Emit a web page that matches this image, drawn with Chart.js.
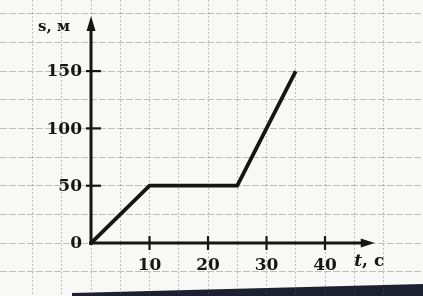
<!DOCTYPE html>
<html>
<head>
<meta charset="utf-8">
<script src="https://cdn.jsdelivr.net/npm/chart.js@4"></script>
<style>
  html, body { margin: 0; padding: 0; background: #f8f8f6; }
  #wrap { width: 423px; height: 296px; }
</style>
</head>
<body>
<div id="wrap"><canvas id="graph"></canvas></div>
<script>
// motion graph data: time (c) and distance (м)
const timeValues = [0, 10, 25, 35];
const distanceValues = [0, 50, 50, 150];

// tick labels
const xTickLabels = [10, 20, 30, 40];
const yTickLabels = [50, 100, 150];
const originLabel = '0';
const xAxisTitle = 't';
const xAxisUnit = ', с';
const yAxisTitle = 's, м';

const ink = '#161616';
const gridColor = 'rgba(95, 95, 95, 0.38)';
const serif = '"DejaVu Serif", "Liberation Serif", serif';

// draws axes with arrows, ticks and labels on top of the grid
const axesPlugin = {
    id: 'axes',
    beforeDraw(chart) {
        const c = chart.ctx;
        c.save();
        c.fillStyle = '#f8f8f6';
        c.fillRect(0, 0, chart.width, chart.height);
        // page shadow at the bottom of the scan
        c.fillStyle = '#1c2030';
        c.beginPath();
        c.moveTo(72, 293);
        c.lineTo(423, 284);
        c.lineTo(423, 296);
        c.lineTo(72, 296);
        c.closePath();
        c.fill();
        c.restore();
    },
    afterDatasetsDraw(chart) {
        const c = chart.ctx;
        const xs = chart.scales.x;
        const ys = chart.scales.y;
        const x0 = xs.getPixelForValue(0);
        const y0 = ys.getPixelForValue(0);
        c.save();
        c.strokeStyle = ink;
        c.fillStyle = ink;
        c.lineWidth = 3;
        c.lineCap = 'butt';

        // x axis
        const xEnd = xs.getPixelForValue(48.5);
        c.beginPath();
        c.moveTo(x0 - 2, y0);
        c.lineTo(xEnd - 10, y0);
        c.stroke();
        c.beginPath();
        c.moveTo(xEnd, y0);
        c.lineTo(xEnd - 14, y0 - 4.5);
        c.lineTo(xEnd - 14, y0 + 4.5);
        c.closePath();
        c.fill();

        // y axis
        const yEnd = ys.getPixelForValue(198);
        c.beginPath();
        c.moveTo(x0, y0 + 2);
        c.lineTo(x0, yEnd + 10);
        c.stroke();
        c.beginPath();
        c.moveTo(x0, yEnd);
        c.lineTo(x0 - 4.5, yEnd + 15);
        c.lineTo(x0 + 4.5, yEnd + 15);
        c.closePath();
        c.fill();

        // ticks
        c.lineWidth = 2.2;
        xTickLabels.forEach(v => {
            const px = xs.getPixelForValue(v);
            c.beginPath();
            c.moveTo(px, y0 - 7);
            c.lineTo(px, y0 + 7);
            c.stroke();
        });
        yTickLabels.forEach(v => {
            const py = ys.getPixelForValue(v);
            c.beginPath();
            c.moveTo(x0 - 5, py);
            c.lineTo(x0 + 10, py);
            c.stroke();
        });

        // labels
        c.font = 'bold 17px ' + serif;
        c.textBaseline = 'middle';
        c.textAlign = 'center';
        xTickLabels.forEach(v => {
            c.fillText(String(v), xs.getPixelForValue(v), y0 + 23);
        });
        c.textAlign = 'right';
        yTickLabels.forEach(v => {
            c.fillText(String(v), x0 - 9, ys.getPixelForValue(v) + 1);
        });
        c.fillText(originLabel, x0 - 9, y0 + 1);

        c.font = 'bold 15px ' + serif;
        c.textAlign = 'left';
        c.fillText(yAxisTitle, x0 - 53, ys.getPixelForValue(188));
        c.font = 'bold italic 17px ' + serif;
        const tx = xs.getPixelForValue(45);
        const ty = y0 + 19;
        c.fillText(xAxisTitle, tx, ty);
        const tw = c.measureText(xAxisTitle).width;
        c.font = 'bold 17px ' + serif;
        c.fillText(xAxisUnit, tx + tw, ty);
        c.restore();
    }
};

new Chart(document.getElementById('graph'), {
    type: 'line',
    data: {
        datasets: [{
            data: timeValues.map((t, i) => ({ x: t, y: distanceValues[i] })),
            borderColor: ink,
            borderWidth: 3.8,
            pointRadius: 0,
            tension: 0,
            fill: false
        }]
    },
    options: {
        responsive: true,
        maintainAspectRatio: false,
        animation: false,
        events: [],
        layout: { padding: 0 },
        plugins: { legend: { display: false }, tooltip: { enabled: false } },
        scales: {
            x: {
                type: 'linear',
                min: -15.56,
                max: 56.75,
                ticks: { display: false, stepSize: 5 },
                border: { display: false, dash: [2, 2] },
                grid: {
                    drawTicks: false,
                    lineWidth: 1,
                    color: ctx => (ctx.tick && Math.abs(ctx.tick.value % 5) < 0.01) ? gridColor : 'rgba(0,0,0,0)'
                }
            },
            y: {
                type: 'linear',
                min: -46.2,
                max: 212,
                ticks: { display: false, stepSize: 25 },
                border: { display: false, dash: [7, 2] },
                grid: {
                    drawTicks: false,
                    lineWidth: 1,
                    color: ctx => (ctx.tick && Math.abs(ctx.tick.value % 25) < 0.01) ? gridColor : 'rgba(0,0,0,0)'
                }
            }
        }
    },
    plugins: [axesPlugin]
});
</script>
</body>
</html>
